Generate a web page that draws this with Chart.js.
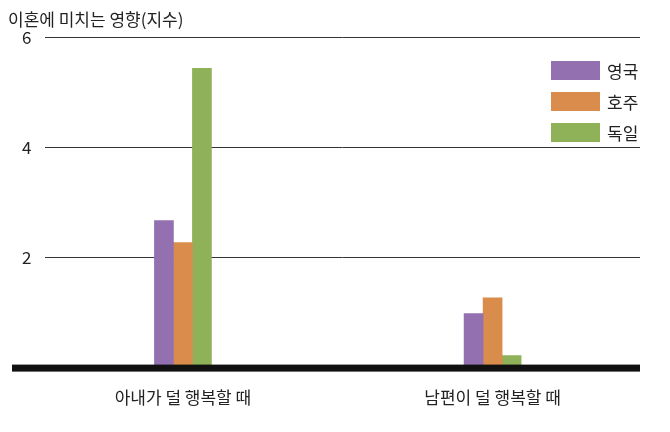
<!DOCTYPE html>
<html><head><meta charset="utf-8">
<script src="https://cdn.jsdelivr.net/npm/chart.js@4.4.1/dist/chart.umd.min.js"></script>
<style>
body{margin:0;background:#fff;font-family:"Noto Sans CJK KR","Noto Sans",sans-serif;}
#wrap{position:relative;width:670px;height:432px;}
#legend{position:absolute;left:551px;top:55px;font-size:17px;color:#222;}
#legend div{display:flex;align-items:center;height:31px;}
#legend span{display:inline-block;width:49px;height:19px;margin-right:7px;}
</style></head>
<body><div id="wrap"><canvas id="c" width="670" height="432"></canvas><div id="legend"></div></div>
<script>
const categories = ['아내가 덜 행복할 때', '남편이 덜 행복할 때'];
const seriesNames = ['영국', '호주', '독일'];
const uk = [2.67, 0.98];
const australia = [2.27, 1.27];
const germany = [5.44, 0.22];
const yTicks = [0, 2, 4, 6];
const colors = ['#9370b0', '#d98c4c', '#8fb158'];

const legend = document.getElementById('legend');
seriesNames.forEach((n, i) => {
  legend.innerHTML += `<div><span style="background:${colors[i]}"></span>${n}</div>`;
});

const toPoints = arr => arr.map((v, i) => ({ x: i + 1, y: v }));

const baseline = {
  id: 'baseline',
  afterDatasetsDraw(chart) {
    const c = chart.ctx, y = chart.scales.y.getPixelForValue(0);
    c.save();
    c.fillStyle = '#111';
    c.fillRect(12, y - 3, chart.chartArea.right - 12, 7);
    c.restore();
  }
};

new Chart(document.getElementById('c'), {
  type: 'bar',
  data: {
    datasets: [
      { label: seriesNames[0], data: toPoints(uk), backgroundColor: colors[0] },
      { label: seriesNames[1], data: toPoints(australia), backgroundColor: colors[1] },
      { label: seriesNames[2], data: toPoints(germany), backgroundColor: colors[2] },
    ],
  },
  options: {
    responsive: false,
    animation: false,
    layout: { padding: { left: 8, right: 30, top: 3, bottom: 12 } },
    datasets: { bar: { barThickness: 19 } },
    plugins: {
      legend: { display: false },
      tooltip: { enabled: false },
      title: {
        display: true, text: '이혼에 미치는 영향(지수)', align: 'start',
        color: '#222', font: { size: 17, family: '"Noto Sans CJK KR"', weight: 'normal' },
        padding: { top: 6, bottom: 8 },
      },
    },
    scales: {
      x: {
        type: 'linear', min: 0.556, max: 2.476, offset: false,
        afterBuildTicks: s => { s.ticks = [{ value: 1 }, { value: 2 }]; },
        ticks: {
          callback: v => categories[v - 1], color: '#222', padding: 12,
          font: { size: 17, family: '"Noto Sans CJK KR"' },
        },
        grid: { display: false },
        border: { display: false },
      },
      y: {
        min: 0, max: 6,
        afterBuildTicks: s => { s.ticks = yTicks.map(v => ({ value: v })); },
        ticks: {
          callback: v => v === 0 ? '' : v, color: '#222', padding: 14,
          font: { size: 17, family: '"Noto Sans CJK KR"' },
        },
        grid: { color: '#333', drawTicks: false },
        border: { display: false },
      },
    },
  },
  plugins: [baseline],
});
</script></body></html>
